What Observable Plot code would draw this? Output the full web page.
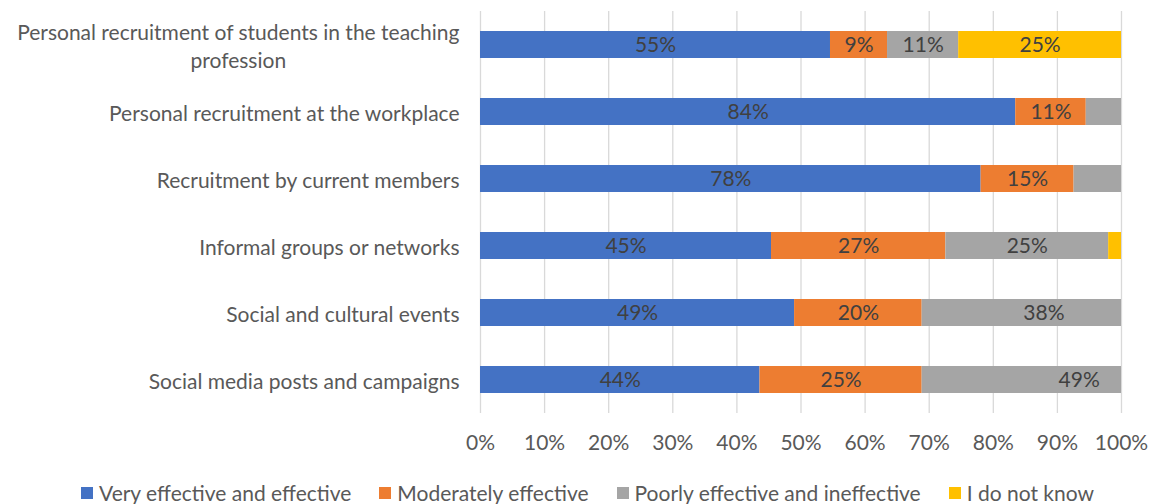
<!DOCTYPE html>
<html>
<head>
<meta charset="utf-8">
<script src="https://cdn.jsdelivr.net/npm/d3@7"></script>
<script src="https://cdn.jsdelivr.net/npm/@observablehq/plot@0.6"></script>
<style>
  html, body { margin: 0; padding: 0; background: #ffffff; }
  body { width: 1153px; font-family: Lato, "Open Sans", sans-serif; }
  #legend {
    display: flex; justify-content: center; align-items: center;
    gap: 28px; margin-top: 10px; padding-left: 22px;
    font-size: 21px; line-height: 26px; color: #595959;
  }
  .item { display: flex; align-items: center; white-space: nowrap; }
  .sw { width: 12px; height: 12px; margin-right: 6px; display: inline-block; }
</style>
</head>
<body>
<div id="chart"></div>
<div id="legend"></div>
<script>
// ---- data ----
const categories = [
  "Personal recruitment of students in the teaching profession",
  "Personal recruitment at the workplace",
  "Recruitment by current members",
  "Informal groups or networks",
  "Social and cultural events",
  "Social media posts and campaigns"
];
const categoryLabels = [
  "Personal recruitment of students in the teaching\nprofession",
  "Personal recruitment at the workplace",
  "Recruitment by current members",
  "Informal groups or networks",
  "Social and cultural events",
  "Social media posts and campaigns"
];
const seriesNames = [
  "Very effective and effective",
  "Moderately effective",
  "Poorly effective and ineffective",
  "I do not know"
];
const seriesColors = ["#4472C4", "#ED7D31", "#A5A5A5", "#FFC000"];
const veryEffective = [54.6, 83.5, 78.1, 45.4, 49.0, 43.6];
const moderatelyEffective = [8.9, 11.0, 14.5, 27.2, 19.9, 25.3];
const poorlyEffective = [11.1, 5.5, 7.4, 25.4, 38, 49];
const doNotKnow = [25.4, 0, 0, 2.0, 0, 0];
const labelMin = 8; // smaller segments carry no label in the reference
const xTicks = [0, 10, 20, 30, 40, 50, 60, 70, 80, 90, 100];

// ---- table ----
const seriesValues = [veryEffective, moderatelyEffective, poorlyEffective, doNotKnow];
const rows = [];
categories.forEach((c, i) => {
  seriesNames.forEach((s, j) => {
    rows.push({category: c, series: s, value: seriesValues[j][i]});
  });
});

const chart = Plot.plot({
  width: 1153,
  height: 470,
  marginLeft: 480,
  marginRight: 32,
  marginTop: 11,
  marginBottom: 57,
  style: {fontFamily: "Lato, 'Open Sans', sans-serif", fontSize: "21px", color: "#595959", background: "#ffffff", overflow: "visible"},
  x: {domain: [0, 100], label: null},
  y: {domain: categories, label: null, paddingInner: 0.6, paddingOuter: 0.3},
  color: {domain: seriesNames, range: seriesColors},
  marks: [
    Plot.ruleX(xTicks, {stroke: "#d9d9d9", strokeWidth: 1.3}),
    Plot.barX(rows, {x: "value", y: "category", fill: "series", z: "series", clip: true}),
    Plot.text(rows, Plot.stackX({
      x: "value", y: "category", z: "series",
      text: d => d.value >= labelMin ? Math.round(d.value) + "%" : null,
      fill: "#404040", fontSize: 21
    })),
    Plot.axisX({ticks: xTicks, tickFormat: d => d + "%", tickSize: 0, tickPadding: 22, fontSize: 21, label: null}),
    Plot.axisY({tickSize: 0, tickPadding: 21, fontSize: 21, lineHeight: 1.33, label: null,
      tickFormat: d => categoryLabels[categories.indexOf(d)]})
  ]
});
document.getElementById("chart").appendChild(chart);

// centre the lines of a wrapped category label, as the reference does
chart.querySelectorAll("text").forEach(t => {
  const spans = t.querySelectorAll("tspan");
  if (spans.length > 1) {
    const w = Math.max(...Array.from(spans).map(s => s.getComputedTextLength()));
    t.setAttribute("text-anchor", "middle");
    spans.forEach(s => s.setAttribute("x", -w / 2));
  }
});

// ---- legend ----
const legend = document.getElementById("legend");
seriesNames.forEach((s, i) => {
  const item = document.createElement("div");
  item.className = "item";
  const sw = document.createElement("span");
  sw.className = "sw";
  sw.style.background = seriesColors[i];
  const lab = document.createElement("span");
  lab.textContent = s;
  item.appendChild(sw);
  item.appendChild(lab);
  legend.appendChild(item);
});
</script>
</body>
</html>
